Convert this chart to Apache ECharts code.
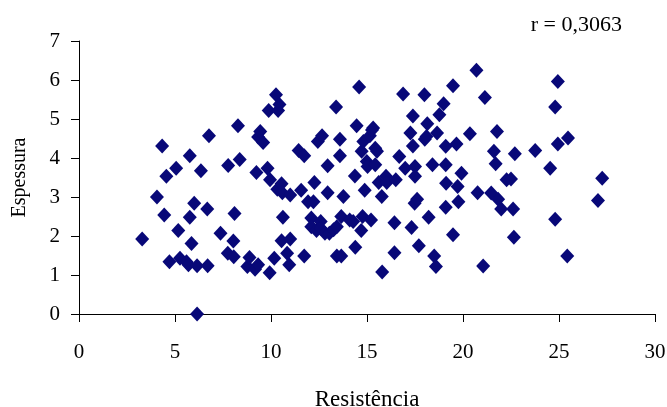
<!DOCTYPE html>
<html>
<head>
<meta charset="utf-8">
<script src="https://cdn.jsdelivr.net/npm/echarts@6/dist/echarts.min.js"></script>
<style>
    html, body { margin: 0; padding: 0; background: #fff; }
    #chart { width: 667px; height: 407px; }
</style>
</head>
<body>
<div id="chart"></div>
<script>
let resistencia = [
    3.29, 4.06, 4.33, 4.44, 4.55, 4.71, 5.06, 5.17, 5.26, 5.6,
    5.77, 5.77, 5.86, 6.0, 5.7, 6.15, 6.15, 6.35, 6.68, 6.7,
    6.77, 7.37, 7.77, 7.75, 8.04, 8.1, 8.06, 8.28, 8.37, 8.77,
    8.88, 9.17, 9.33, 9.24, 9.33, 9.44, 9.59, 9.82, 9.95, 9.93,
    10.17, 9.88, 10.26, 10.37, 10.44, 10.33, 10.55, 10.59, 10.62, 10.55,
    10.84, 10.95, 11.0, 11.0, 11.57, 11.44, 11.73, 11.73, 11.93, 12.21,
    12.26, 12.1, 12.1, 12.37, 12.44, 12.66, 12.59, 12.59, 12.81, 12.95,
    12.95, 13.04, 13.26, 13.39, 13.43, 13.43, 13.59, 13.59, 13.66, 13.66,
    13.77, 14.1, 14.28, 14.37, 14.39, 14.46, 14.59, 14.7, 14.72, 14.77,
    14.81, 14.88, 14.99, 15.15, 15.21, 15.26, 15.32, 15.03, 15.43, 15.43,
    15.52, 15.61, 15.77, 15.79, 15.99, 16.03, 16.43, 16.43, 16.5, 16.68,
    16.88, 16.99, 17.26, 17.39, 17.39, 17.32, 17.5, 17.5, 17.48, 17.61,
    17.7, 17.99, 18.01, 18.1, 18.14, 18.21, 18.41, 18.5, 18.59, 18.65,
    18.77, 18.99, 19.1, 19.1, 19.12, 19.1, 19.48, 19.48, 19.66, 19.72,
    19.76, 19.92, 20.36, 20.7, 20.76, 21.05, 21.14, 21.47, 21.61, 21.7,
    21.77, 21.83, 21.99, 22.27, 22.5, 22.61, 22.65, 22.7, 23.76, 24.54,
    24.8, 24.8, 24.94, 24.94, 25.43, 25.47, 27.03, 27.25
];

let espessura = [
    1.92, 3.00, 4.31, 2.54, 3.53, 1.34, 3.74, 2.14, 1.43, 1.34,
    4.06, 2.48, 1.81, 2.84, 1.26, 1.24, 0.0, 3.67, 2.69, 1.24,
    4.57, 2.07, 3.81, 1.56, 1.87, 2.58, 1.47, 4.83, 3.96, 1.22,
    1.45, 1.15, 1.26, 3.63, 4.54, 4.68, 4.40, 3.74, 3.44, 1.06,
    1.43, 5.22, 5.62, 5.22, 5.37, 3.20, 3.34, 3.11, 2.48, 1.88,
    1.56, 1.26, 1.92, 3.05, 3.17, 4.19, 4.06, 1.49, 2.88, 2.88,
    3.37, 2.46, 2.24, 2.14, 4.42, 4.57, 2.37, 2.20, 2.07, 3.80,
    3.11, 2.07, 2.16, 5.31, 2.24, 1.49, 4.48, 4.06, 2.50, 1.49,
    3.01, 2.41, 2.37, 3.54, 1.71, 4.83, 5.82, 2.14, 4.17, 2.50,
    4.42, 3.17, 3.91, 4.57, 2.41, 4.72, 4.77, 3.78, 4.25, 3.83,
    4.17, 3.37, 3.01, 1.08, 3.53, 3.37, 2.34, 1.57, 3.44, 4.04,
    5.64, 3.74, 4.64, 5.08, 4.31, 2.22, 3.78, 3.53, 2.84, 2.94,
    1.75, 5.62, 4.48, 4.55, 4.88, 2.48, 3.83, 1.49, 1.22, 4.64,
    5.11, 5.39, 3.83, 4.30, 3.35, 2.74, 5.85, 2.03, 4.36, 3.27,
    2.88, 3.61, 4.62, 6.25, 3.11, 1.23, 5.55, 3.10, 4.17, 3.85,
    4.68, 2.94, 2.69, 3.44, 3.46, 2.69, 1.97, 4.11, 4.19, 3.74,
    2.43, 5.31, 5.96, 4.36, 1.49, 4.51, 2.91, 3.48
];

let xTicks = [0, 5, 10, 15, 20, 25, 30];
let yTicks = [0, 1, 2, 3, 4, 5, 6, 7];
let rText = 'r = 0,3063';

let pontos = [];
for (let i = 0; i < resistencia.length; i++) {
    pontos.push([resistencia[i], espessura[i]]);
}

let serif = '"Liberation Serif", "Times New Roman", serif';

let option = {
    animation: false,
    backgroundColor: '#fff',
    title: {
        text: rText,
        right: 40,
        top: 9,
        textStyle: {
            fontFamily: serif,
            fontWeight: 'normal',
            fontSize: 22,
            color: '#000'
        }
    },
    grid: {
        left: 79,
        right: 12,
        top: 41,
        bottom: 93,
        outerBoundsMode: 'none'
    },
    xAxis: {
        type: 'value',
        min: xTicks[0],
        max: xTicks[xTicks.length - 1],
        interval: 5,
        name: 'Resistência',
        nameLocation: 'middle',
        nameGap: 74,
        nameTextStyle: {
            fontFamily: serif,
            fontSize: 23,
            color: '#000'
        },
        axisLine: { lineStyle: { color: '#000', width: 1 } },
        axisTick: { show: true, length: 8, lineStyle: { color: '#000' } },
        axisLabel: {
            margin: 28,
            fontFamily: serif,
            fontSize: 21,
            color: '#000'
        },
        splitLine: { show: false }
    },
    yAxis: {
        type: 'value',
        min: yTicks[0],
        max: yTicks[yTicks.length - 1],
        interval: 1,
        name: 'Espessura',
        nameLocation: 'middle',
        nameGap: 49,
        nameTextStyle: {
            fontFamily: serif,
            fontSize: 20,
            color: '#000'
        },
        axisLine: { show: true, lineStyle: { color: '#000', width: 1 } },
        axisTick: { show: true, length: 8, lineStyle: { color: '#000' } },
        axisLabel: {
            margin: 19,
            fontFamily: serif,
            fontSize: 21,
            color: '#000'
        },
        splitLine: { show: false }
    },
    series: [
        {
            type: 'scatter',
            symbol: 'diamond',
            symbolSize: [14, 15],
            data: pontos,
            itemStyle: { color: '#080878', opacity: 1 }
        }
    ]
};

let chart = echarts.init(document.getElementById('chart'));
chart.setOption(option);
</script>
</body>
</html>
